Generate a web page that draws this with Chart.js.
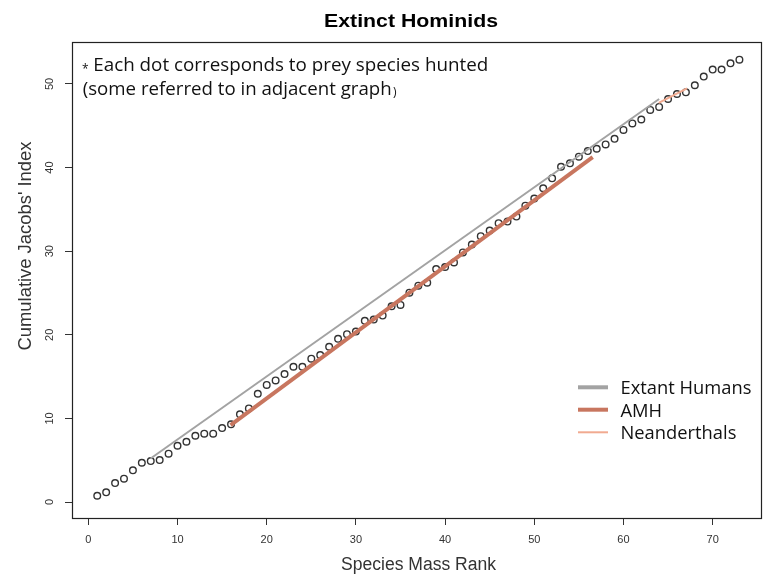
<!DOCTYPE html>
<html><head><meta charset="utf-8">
<script src="https://cdn.jsdelivr.net/npm/chart.js@4"></script>
<style>html,body{margin:0;padding:0;background:#fff}#wrap{width:769px;height:584px}</style>
</head><body><div id="wrap"><canvas id="c" width="769" height="584"></canvas></div>
<script>
// ---- data ----
const ranks = [1,2,3,4,5,6,7,8,9,10,11,12,13,14,15,16,17,18,19,20,21,22,23,24,25,26,27,28,29,30,31,32,33,34,35,36,37,38,39,40,41,42,43,44,45,46,47,48,49,50,51,52,53,54,55,56,57,58,59,60,61,62,63,64,65,66,67,68,69,70,71,72,73];
const jacobsIndex = [0.75,1.16,2.27,2.79,3.79,4.70,4.90,5.02,5.78,6.73,7.21,7.93,8.17,8.17,8.85,9.29,10.49,11.2,12.95,14.0,14.55,15.3,16.18,16.18,17.14,17.57,18.57,19.52,20.07,20.39,21.67,21.82,22.3,23.41,23.57,25.04,25.88,26.23,27.87,28.11,28.66,29.85,30.8,31.8,32.47,33.35,33.54,34.14,35.45,36.29,37.53,38.72,40.1,40.51,41.3,41.97,42.25,42.77,43.44,44.51,45.28,45.75,46.9,47.26,48.2,48.8,49.0,49.85,50.88,51.72,51.72,52.47,52.91];
const extantX = [6.98, 64.0];
const extantY = [5.21, 48.2];
const amhX = [15.95, 56.55];
const amhY = [9.2, 41.25];
const neanX = [63.95, 67.13];
const neanY = [47.73, 49.48];
const xTicks = [0,10,20,30,40,50,60,70];
const yTicks = [0,10,20,30,40,50];
const seriesNames = ['Extant Humans','AMH','Neanderthals'];
const titleText = 'Extinct Hominids';
const xTitle = 'Species Mass Rank';
const yTitle = "Cumulative Jacobs' Index";
const noteLine1 = 'Each dot corresponds to prey species hunted';
const noteLine2 = '(some referred to in adjacent graph';

const colors = {extant:'#a3a3a3', amh:'#c8765f', nean:'#f1aa90', dot:'#333333', axis:'#333333'};

function fitText(ctx, text, x, y, w, font, align) {
  ctx.font = font;
  const nat = ctx.measureText(text).width;
  const s = w / nat;
  ctx.save();
  ctx.translate(x, y);
  ctx.scale(s, 1);
  ctx.textAlign = align || 'left';
  ctx.fillText(text, 0, 0);
  ctx.restore();
  return s;
}

const deco = {
  id: 'deco',
  afterDraw(chart) {
    const ctx = chart.ctx;
    const a = chart.chartArea;
    ctx.save();
    // box
    ctx.strokeStyle = '#222';
    ctx.lineWidth = 1.2;
    ctx.strokeRect(a.left + 0.5, a.top + 0.5, a.right - a.left, a.bottom - a.top);
    // title
    ctx.fillStyle = '#000';
    ctx.textBaseline = 'alphabetic';
    fitText(ctx, titleText, 411, 26.5, 174, 'bold 18px "Liberation Sans"', 'center');
    // axis titles
    ctx.fillStyle = colors.axis;
    fitText(ctx, xTitle, 418.5, 570, 155, '18px "Liberation Sans"', 'center');
    ctx.save();
    ctx.translate(31, 246);
    ctx.rotate(-Math.PI / 2);
    fitText(ctx, yTitle, 0, 0, 209, '18px "Liberation Sans"', 'center');
    ctx.restore();
    // y tick labels rotated
    const ys = chart.scales.y;
    ctx.font = '11px "Liberation Sans"';
    ctx.textAlign = 'center';
    ctx.textBaseline = 'middle';
    yTicks.forEach(v => {
      const py = ys.getPixelForValue(v);
      ctx.save();
      ctx.translate(50, py);
      ctx.rotate(-Math.PI / 2);
      ctx.fillText(String(v), 0, 0);
      ctx.restore();
    });
    // note text
    ctx.fillStyle = '#111';
    ctx.textBaseline = 'alphabetic';
    ctx.textAlign = 'left';
    ctx.font = '12px "Open Sans"';
    ctx.fillText('*', 82, 73);
    fitText(ctx, noteLine1, 93.3, 71, 395, '19px "Open Sans"', 'left');
    fitText(ctx, noteLine2, 82.7, 95, 309, '19px "Open Sans"', 'left');
    ctx.font = '12px "Open Sans"';
    ctx.fillText(')', 393, 96);
    // legend
    const items = [
      {name: seriesNames[0], color: colors.extant, lw: 4, y: 387.3},
      {name: seriesNames[1], color: colors.amh, lw: 4, y: 409.7},
      {name: seriesNames[2], color: colors.nean, lw: 2, y: 432.3}
    ];
    ctx.font = '19px "Open Sans"';
    const s = 131 / ctx.measureText(items[0].name).width;
    items.forEach(it => {
      ctx.strokeStyle = it.color;
      ctx.lineWidth = it.lw;
      ctx.beginPath();
      ctx.moveTo(578, it.y);
      ctx.lineTo(608, it.y);
      ctx.stroke();
      ctx.fillStyle = '#111';
      ctx.save();
      ctx.translate(620.5, it.y + 7);
      ctx.scale(s, 1);
      ctx.font = '19px "Open Sans"';
      ctx.textAlign = 'left';
      ctx.fillText(it.name, 0, 0);
      ctx.restore();
    });
    ctx.restore();
  }
};

const pts = ranks.map((r, i) => ({x: r, y: jacobsIndex[i]}));
const seg = (xs, ys) => xs.map((x, i) => ({x, y: ys[i]}));

new Chart(document.getElementById('c'), {
  type: 'scatter',
  data: {
    datasets: [
      {label: 'Prey species', data: pts, showLine: false, pointStyle: 'circle', pointRadius: 3.3,
       pointBorderWidth: 1.4, pointBorderColor: colors.dot, pointBackgroundColor: 'rgba(0,0,0,0)', order: 4},
      {label: seriesNames[0], data: seg(extantX, extantY), showLine: true, borderColor: colors.extant, borderWidth: 2,
       pointRadius: 0, order: 3},
      {label: seriesNames[1], data: seg(amhX, amhY), showLine: true, borderColor: colors.amh, borderWidth: 4,
       pointRadius: 0, order: 2},
      {label: seriesNames[2], data: seg(neanX, neanY), showLine: true, borderColor: colors.nean, borderWidth: 2,
       pointRadius: 0, order: 1}
    ]
  },
  options: {
    responsive: false,
    animation: false,
    devicePixelRatio: 1,
    layout: {padding: {top: 42, right: 8, left: 0, bottom: 0}},
    plugins: {legend: {display: false}, tooltip: {enabled: false}, title: {display: false}},
    scales: {
      x: {
        type: 'linear', min: -1.83, max: 75.42,
        afterBuildTicks: s => { s.ticks = xTicks.map(v => ({value: v})); },
        afterFit: s => { s.height = 66; },
        grid: {drawOnChartArea: false, drawTicks: true, tickLength: 7, color: '#333', tickColor: '#333'},
        border: {display: false},
        ticks: {font: {family: 'Liberation Sans', size: 11}, color: '#333', padding: 8, maxRotation: 0,
                callback: v => String(v)}
      },
      y: {
        type: 'linear', min: -1.91, max: 55.02,
        afterBuildTicks: s => { s.ticks = yTicks.map(v => ({value: v})); },
        afterFit: s => { s.width = 72; },
        grid: {drawOnChartArea: false, drawTicks: true, tickLength: 7, color: '#333', tickColor: '#333'},
        border: {display: false},
        ticks: {display: false}
      }
    }
  },
  plugins: [deco]
});
</script>
</body></html>
